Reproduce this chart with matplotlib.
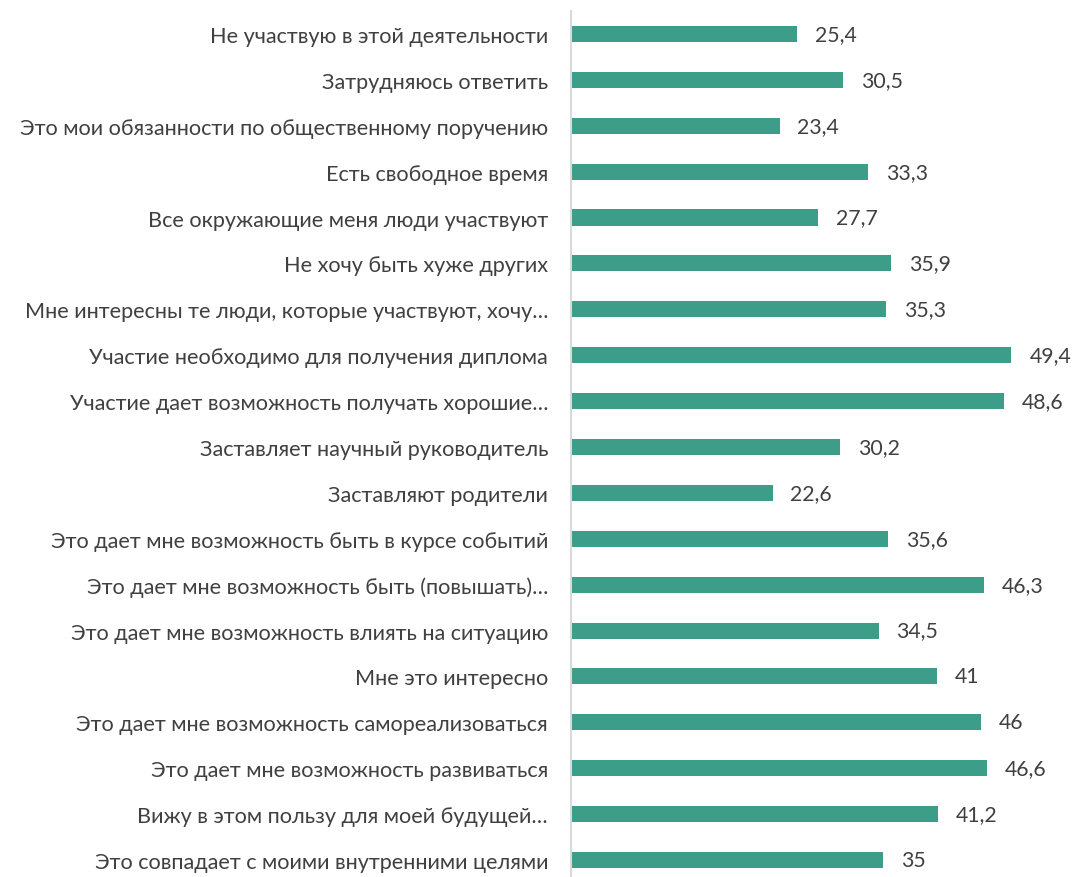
import matplotlib.pyplot as plt

kategoriler = [
    "Не участвую в этой деятельности",
    "Затрудняюсь ответить",
    "Это мои обязанности по общественному поручению",
    "Есть свободное время",
    "Все окружающие меня люди участвуют",
    "Не хочу быть хуже других",
    "Мне интересны те люди, которые участвуют, хочу…",
    "Участие необходимо для получения диплома",
    "Участие дает возможность получать хорошие…",
    "Заставляет научный руководитель",
    "Заставляют родители",
    "Это дает мне возможность быть в курсе событий",
    "Это дает мне возможность быть (повышать)…",
    "Это дает мне возможность влиять на ситуацию",
    "Мне это интересно",
    "Это дает мне возможность самореализоваться",
    "Это дает мне возможность развиваться",
    "Вижу в этом пользу для моей будущей…",
    "Это совпадает с моими внутренними целями",
]
degerler = [25.4, 30.5, 23.4, 33.3, 27.7, 35.9, 35.3, 49.4, 48.6, 30.2,
            22.6, 35.6, 46.3, 34.5, 41, 46, 46.6, 41.2, 35]

plt.rcParams['font.family'] = ['Lato', 'DejaVu Sans']

fig = plt.figure(figsize=(10.73, 8.78), dpi=100)
ax = fig.add_axes([571 / 1073, 0, 502 / 1073, 866 / 878])

y = list(range(len(kategoriler)))
ax.barh(y, degerler, height=0.35, color="#3C9D89")

for i, v in enumerate(degerler):
    metin = str(v).replace(".", ",")
    ax.text(v + 2.0, i, metin, va="center", ha="left", fontsize=15.3, color="#404040")

ax.set_yticks(y)
ax.set_yticklabels(kategoriler, fontsize=15.6, color="#404040")
ax.tick_params(axis="y", length=0, pad=16.5)
ax.set_ylim(18.37, -0.5)
ax.set_xlim(0, 56.3)
ax.set_xticks([])

for s in ["top", "right", "bottom"]:
    ax.spines[s].set_visible(False)
ax.spines["left"].set_color("#d9d9d9")
ax.spines["left"].set_linewidth(1.5)

fig.savefig("out.png", dpi=100)
